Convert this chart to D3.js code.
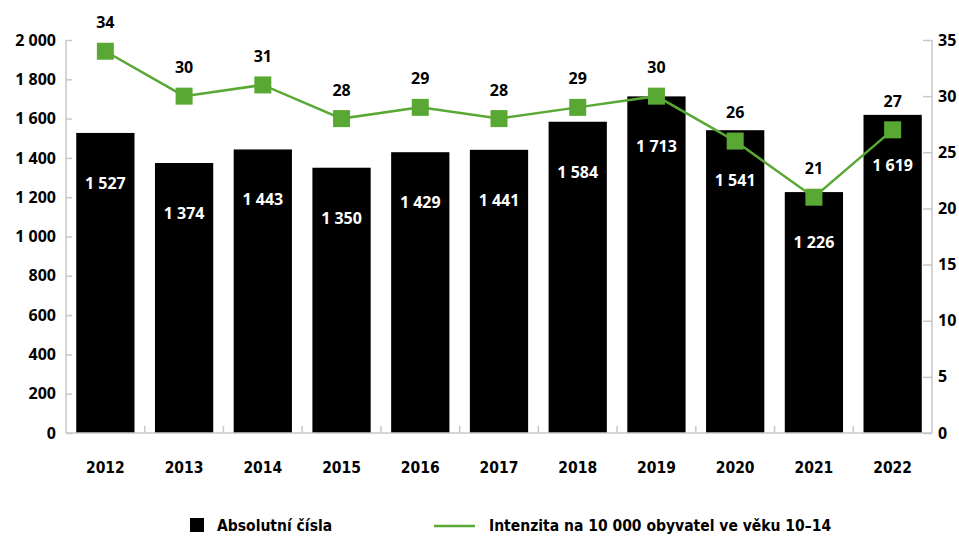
<!DOCTYPE html>
<html lang="cs">
<head>
<meta charset="UTF-8" />
<title>Absolutní čísla a intenzita</title>
<script src="https://d3js.org/d3.v7.min.js"></script>
<style>
  body { margin: 0; background: #fff; }
  text { font-family: "Open Sans", Arial, sans-serif; font-weight: bold; }
  .cond { font-family: "DejaVu Sans Condensed", "DejaVu Sans", sans-serif; }
</style>
</head>
<body>
<svg width="959" height="536"></svg>
<script>
const years = ["2012","2013","2014","2015","2016","2017","2018","2019","2020","2021","2022"];
const absolutni = [1527, 1374, 1443, 1350, 1429, 1441, 1584, 1713, 1541, 1226, 1619];
const intenzita = [34, 30, 31, 28, 29, 28, 29, 30, 26, 21, 27];
const leftTicks = [0, 200, 400, 600, 800, 1000, 1200, 1400, 1600, 1800, 2000];
const rightTicks = [0, 5, 10, 15, 20, 25, 30, 35];

const svg = d3.select("svg");
const mLeft = 66, mRight = 932, mTop = 40, mBottom = 433;
const green = "#5aa834";
const axisGray = "#c8c8c8";
const fmt = v => d3.format(",")(v).replace(/,/g, " ");

const x = d3.scaleBand().domain(years).range([mLeft, mRight]).paddingInner(0.26).paddingOuter(0.13);
const y = d3.scaleLinear().domain([0, 2000]).range([mBottom, mTop]);
const y2 = d3.scaleLinear().domain([0, 35]).range([mBottom, mTop]);

// bars
svg.selectAll(".bar")
  .data(years)
  .enter().append("rect")
  .attr("class", "bar")
  .attr("x", d => x(d))
  .attr("width", x.bandwidth())
  .attr("y", (d, i) => y(absolutni[i]))
  .attr("height", (d, i) => mBottom - y(absolutni[i]))
  .attr("fill", "#000");

// left axis
const gl = svg.append("g").attr("transform", `translate(${mLeft},0)`)
  .call(d3.axisLeft(y).tickValues(leftTicks).tickSize(-6).tickPadding(10).tickFormat(fmt));
gl.selectAll("line, path").attr("stroke", axisGray).attr("stroke-width", 1.5);
gl.select(".domain").attr("d", `M0,${mTop}V${mBottom}`);
gl.selectAll("text").attr("font-size", 16).attr("fill", "#000")
  .style("font-family", "'Open Sans', sans-serif").style("font-weight", "bold");

// right axis
const gr = svg.append("g").attr("transform", `translate(${mRight},0)`)
  .call(d3.axisRight(y2).tickValues(rightTicks).tickSize(-9).tickPadding(6));
gr.selectAll("line, path").attr("stroke", axisGray).attr("stroke-width", 1.5);
gr.select(".domain").attr("d", `M0,${mTop}V${mBottom}`);
gr.selectAll("text").attr("font-size", 16).attr("fill", "#000")
  .style("font-family", "'Open Sans', sans-serif").style("font-weight", "bold");

// bottom axis line with category separators
svg.append("line").attr("x1", mLeft).attr("x2", mRight).attr("y1", mBottom).attr("y2", mBottom)
  .attr("stroke", axisGray).attr("stroke-width", 1.5);
const step = x.step();
svg.selectAll(".sep")
  .data(years.slice(1))
  .enter().append("line")
  .attr("x1", d => x(d) - step * x.paddingInner() / 2)
  .attr("x2", d => x(d) - step * x.paddingInner() / 2)
  .attr("y1", mBottom).attr("y2", mBottom - 7)
  .attr("stroke", axisGray).attr("stroke-width", 1.5);

// year labels
svg.selectAll(".year")
  .data(years)
  .enter().append("text")
  .attr("class", "cond")
  .attr("x", d => x(d) + x.bandwidth() / 2)
  .attr("y", 473)
  .attr("text-anchor", "middle")
  .attr("font-size", 15.5)
  .text(d => d);

// bar value labels
svg.selectAll(".val")
  .data(years)
  .enter().append("text")
  .attr("x", d => x(d) + x.bandwidth() / 2)
  .attr("y", (d, i) => y(absolutni[i]) + 56)
  .attr("text-anchor", "middle")
  .attr("font-size", 16)
  .attr("fill", "#fff")
  .text((d, i) => fmt(absolutni[i]));

// line
const line = d3.line()
  .x((d, i) => x(years[i]) + x.bandwidth() / 2)
  .y(d => y2(d));
svg.append("path").datum(intenzita)
  .attr("d", line).attr("fill", "none")
  .attr("stroke", green).attr("stroke-width", 2.5);

svg.selectAll(".pt")
  .data(intenzita)
  .enter().append("rect")
  .attr("x", (d, i) => x(years[i]) + x.bandwidth() / 2 - 8.5)
  .attr("y", d => y2(d) - 8.5)
  .attr("width", 17).attr("height", 17)
  .attr("fill", green);

svg.selectAll(".lbl")
  .data(intenzita)
  .enter().append("text")
  .attr("x", (d, i) => x(years[i]) + x.bandwidth() / 2)
  .attr("y", d => y2(d) - 23)
  .attr("text-anchor", "middle")
  .attr("font-size", 16)
  .text(d => d);

// legend
const lg = svg.append("g");
lg.append("rect").attr("x", 190).attr("y", 518).attr("width", 14).attr("height", 14).attr("fill", "#000");
lg.append("text").attr("class", "cond").attr("x", 217).attr("y", 531).attr("font-size", 15.5).text("Absolutní čísla");
lg.append("line").attr("x1", 434).attr("x2", 475).attr("y1", 526).attr("y2", 526)
  .attr("stroke", green).attr("stroke-width", 2.5);
lg.append("text").attr("class", "cond").attr("x", 489).attr("y", 531).attr("font-size", 15.5)
  .text("Intenzita na 10 000 obyvatel ve věku 10–14");
</script>
</body>
</html>
